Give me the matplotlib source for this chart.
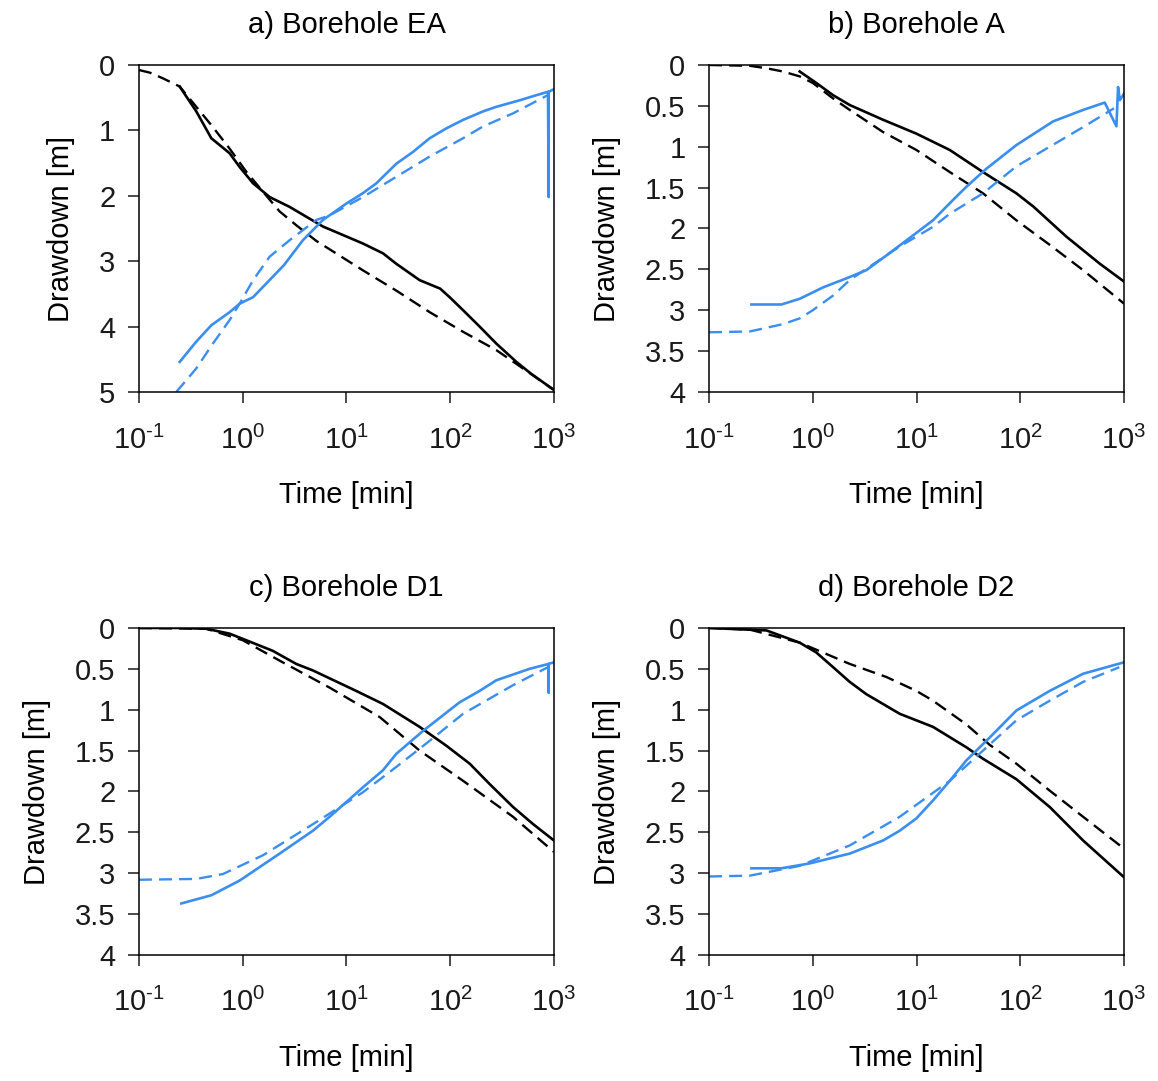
import matplotlib
matplotlib.use("Agg")
import matplotlib.pyplot as plt
import matplotlib.ticker as mticker
import numpy as np

plt.rcParams['font.family'] = ['Liberation Sans', 'DejaVu Sans']
plt.rcParams['mathtext.fontset'] = 'custom'
plt.rcParams['mathtext.rm'] = 'Liberation Sans'
plt.rcParams['mathtext.default'] = 'regular'

BLUE = '#3a8ef0'

# a) Borehole EA  (t in min, s in m)
ea_dd_obs_t = [0.247, 0.357, 0.498, 0.748, 0.934, 1.26, 1.82, 2.83, 5.93, 14.4, 22.5, 30.2, 50.7, 80, 98.6, 133, 192, 278, 434, 600, 1000]
ea_dd_obs_s = [0.33, 0.71, 1.12, 1.35, 1.56, 1.81, 2.02, 2.17, 2.47, 2.73, 2.88, 3.04, 3.29, 3.42, 3.55, 3.75, 4.0, 4.26, 4.54, 4.72, 4.97]
ea_dd_mod_t = [0.1, 0.127, 0.170, 0.247, 0.357, 0.516, 0.748, 1.08, 1.57, 2.27, 3.28, 5.12, 14.4, 30.2, 63.4, 133, 278, 434, 1000]
ea_dd_mod_s = [0.077, 0.117, 0.204, 0.33, 0.64, 0.95, 1.28, 1.63, 1.94, 2.24, 2.45, 2.69, 3.14, 3.45, 3.78, 4.08, 4.36, 4.57, 4.97]
ea_rc_obs_t = [0.247, 0.357, 0.498, 0.748, 0.934, 1.26, 1.69, 2.5, 3.8, 5.93, 9.96, 14.4, 19.4, 30.2, 43.7, 63.4, 91.6, 133, 207, 278, 467, 651, 875, 889, 889, 1000]
ea_rc_obs_s = [4.54, 4.23, 3.98, 3.78, 3.65, 3.55, 3.34, 3.06, 2.68, 2.37, 2.12, 1.96, 1.81, 1.51, 1.33, 1.12, 0.97, 0.84, 0.71, 0.64, 0.54, 0.47, 0.41, 2.02, 0.41, 0.37]
ea_rc_mod_t = [0.229, 0.357, 0.516, 0.748, 0.934, 1.26, 1.82, 2.83, 5.12, 6.88, 14.4, 30.2, 63.4, 133, 207, 403, 875]
ea_rc_mod_s = [5.0, 4.64, 4.26, 3.90, 3.65, 3.29, 2.93, 2.68, 2.37, 2.30, 2.02, 1.71, 1.40, 1.12, 0.94, 0.74, 0.46]

# b) Borehole A
a_dd_obs_t = [0.748, 1.08, 1.57, 2.27, 4.75, 9.96, 20.9, 43.7, 91.6, 133, 278, 582, 1000]
a_dd_obs_s = [0.08, 0.22, 0.37, 0.49, 0.67, 0.84, 1.04, 1.31, 1.57, 1.73, 2.10, 2.43, 2.65]
a_dd_mod_t = [0.1, 0.247, 0.357, 0.516, 0.748, 1.0, 1.57, 2.27, 4.75, 9.96, 20.9, 43.7, 91.6, 192, 403, 1000]
a_dd_mod_s = [0.0, 0.01, 0.04, 0.08, 0.14, 0.22, 0.41, 0.55, 0.82, 1.04, 1.31, 1.57, 1.90, 2.20, 2.51, 2.92]
a_rc_obs_t = [0.256, 0.498, 0.748, 1.26, 2.11, 3.28, 5.12, 8.5, 14.4, 22.5, 30.2, 47, 91.6, 207, 403, 651, 844, 875, 910, 1000]
a_rc_obs_s = [2.93, 2.93, 2.86, 2.72, 2.61, 2.51, 2.33, 2.12, 1.90, 1.65, 1.49, 1.27, 0.98, 0.69, 0.55, 0.46, 0.75, 0.27, 0.43, 0.35]
a_rc_mod_t = [0.1, 0.247, 0.516, 0.748, 1.0, 1.57, 2.27, 3.9, 6.88, 14.4, 20.9, 43.7, 91.6, 192, 403, 800]
a_rc_mod_s = [3.27, 3.26, 3.17, 3.10, 3.0, 2.82, 2.63, 2.43, 2.22, 1.98, 1.82, 1.57, 1.24, 1.0, 0.76, 0.53]

# c) Borehole D1
d1_dd_obs_t = [0.1, 0.247, 0.446, 0.748, 1.08, 1.95, 3.28, 4.75, 12.4, 22.5, 50.7, 91.6, 154, 240, 403, 630, 1000]
d1_dd_obs_s = [0.0, 0.0, 0.01, 0.07, 0.15, 0.28, 0.44, 0.52, 0.77, 0.93, 1.21, 1.44, 1.66, 1.91, 2.19, 2.40, 2.60]
d1_dd_mod_t = [0.1, 0.446, 1.0, 2.27, 6.88, 20.9, 50.7, 133, 403, 1000]
d1_dd_mod_s = [0.0, 0.01, 0.15, 0.40, 0.73, 1.09, 1.50, 1.87, 2.31, 2.74]
d1_rc_obs_t = [0.256, 0.498, 0.934, 2.27, 4.75, 6.88, 14.4, 22.5, 30.2, 54.6, 123, 192, 278, 582, 889, 889, 889, 1000]
d1_rc_obs_s = [3.37, 3.27, 3.09, 2.76, 2.48, 2.31, 1.95, 1.74, 1.54, 1.26, 0.91, 0.77, 0.64, 0.50, 0.44, 0.79, 0.44, 0.42]
d1_rc_mod_t = [0.1, 0.357, 0.645, 1.57, 4.75, 14.4, 30.2, 63.4, 133, 403, 875]
d1_rc_mod_s = [3.08, 3.07, 3.01, 2.78, 2.40, 2.01, 1.70, 1.38, 1.05, 0.70, 0.48]

# d) Borehole D2
d2_dd_obs_t = [0.1, 0.357, 0.748, 1.08, 1.57, 2.27, 3.28, 4.75, 6.88, 14.4, 30.2, 43.7, 91.6, 192, 403, 1000]
d2_dd_obs_s = [0.0, 0.03, 0.18, 0.30, 0.48, 0.66, 0.81, 0.93, 1.05, 1.21, 1.46, 1.60, 1.85, 2.19, 2.60, 3.05]
d2_dd_mod_t = [0.1, 0.247, 0.748, 2.27, 5.12, 9.96, 14.4, 30.2, 50.7, 91.6, 192, 403, 1000]
d2_dd_mod_s = [0.0, 0.02, 0.18, 0.44, 0.60, 0.77, 0.89, 1.18, 1.43, 1.66, 1.99, 2.31, 2.70]
d2_rc_obs_t = [0.256, 0.498, 0.934, 2.27, 4.75, 6.88, 9.96, 14.4, 20.9, 30.2, 50.7, 91.6, 192, 403, 1000]
d2_rc_obs_s = [2.94, 2.94, 2.88, 2.76, 2.60, 2.48, 2.33, 2.11, 1.87, 1.62, 1.34, 1.01, 0.77, 0.56, 0.42]
d2_rc_mod_t = [0.1, 0.247, 0.748, 2.27, 6.88, 20.9, 43.7, 91.6, 192, 403, 900]
d2_rc_mod_s = [3.04, 3.03, 2.91, 2.66, 2.31, 1.87, 1.50, 1.13, 0.89, 0.66, 0.48]

titles = ['a) Borehole EA', 'b) Borehole A', 'c) Borehole D1', 'd) Borehole D2']
ymax = [5, 4, 4, 4]
ystep = [1, 0.5, 0.5, 0.5]

panels = [
    (ea_dd_obs_t, ea_dd_obs_s, ea_dd_mod_t, ea_dd_mod_s, ea_rc_obs_t, ea_rc_obs_s, ea_rc_mod_t, ea_rc_mod_s),
    (a_dd_obs_t, a_dd_obs_s, a_dd_mod_t, a_dd_mod_s, a_rc_obs_t, a_rc_obs_s, a_rc_mod_t, a_rc_mod_s),
    (d1_dd_obs_t, d1_dd_obs_s, d1_dd_mod_t, d1_dd_mod_s, d1_rc_obs_t, d1_rc_obs_s, d1_rc_mod_t, d1_rc_mod_s),
    (d2_dd_obs_t, d2_dd_obs_s, d2_dd_mod_t, d2_dd_mod_s, d2_rc_obs_t, d2_rc_obs_s, d2_rc_mod_t, d2_rc_mod_s),
]


def pow_label(x, pos):
    e = int(round(np.log10(x)))
    return r'$10^{\text{%d}}$' % e


fig = plt.figure(figsize=(11.58, 10.81), dpi=100)
positions = [
    [0.120, 0.6374, 0.3584, 0.3025],
    [0.6123, 0.6374, 0.3584, 0.3025],
    [0.120, 0.1166, 0.3584, 0.3025],
    [0.6123, 0.1166, 0.3584, 0.3025],
]

FS = 21
for i, (pos, data) in enumerate(zip(positions, panels)):
    ax = fig.add_axes(pos)
    t1, s1, t2, s2, t3, s3, t4, s4 = data
    ax.plot(t1, s1, color='black', lw=1.9)
    ax.plot(t2, s2, color='black', lw=1.7, dashes=(5.5, 3))
    ax.plot(t3, s3, color=BLUE, lw=1.9)
    ax.plot(t4, s4, color=BLUE, lw=1.7, dashes=(5.5, 3))

    ax.set_xscale('log')
    ax.set_xlim(0.1, 1000)
    ax.set_ylim(ymax[i], 0)
    ax.xaxis.set_major_locator(mticker.LogLocator(base=10, numticks=10))
    ax.xaxis.set_minor_locator(mticker.NullLocator())
    ax.xaxis.set_major_formatter(mticker.FuncFormatter(pow_label))
    ax.set_yticks(np.arange(0, ymax[i] + 0.01, ystep[i]))
    ax.yaxis.set_major_formatter(mticker.FormatStrFormatter('%g'))

    for sp in ax.spines.values():
        sp.set_linewidth(1.1)
    ax.tick_params(axis='both', direction='out', length=8, width=1.1,
                   labelsize=FS, colors='#1a1a1a')
    ax.tick_params(axis='x', pad=16)
    ax.tick_params(axis='y', pad=9)
    ax.set_title(titles[i], fontsize=FS, pad=23)
    ax.set_xlabel('Time [min]', fontsize=FS, labelpad=19)
    ax.set_ylabel('Drawdown [m]', fontsize=FS, labelpad=17)

fig.savefig('out.png', dpi=100)
